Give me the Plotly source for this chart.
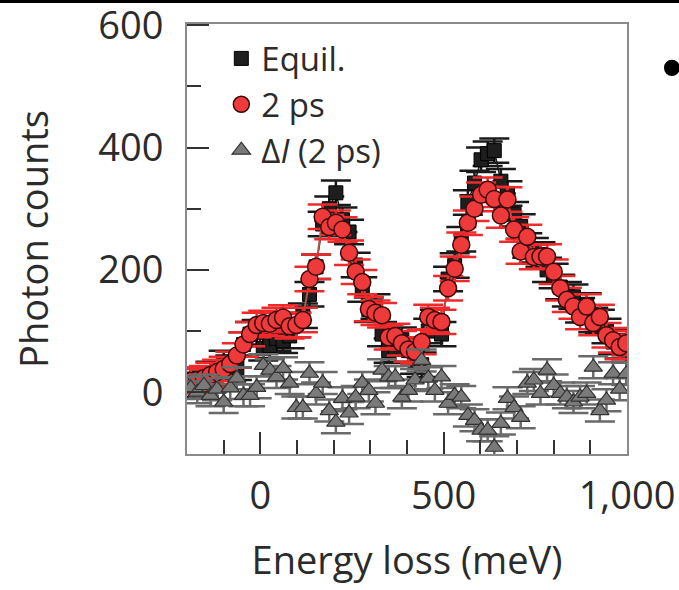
import plotly.graph_objects as go

energy = [-190, -172, -154, -136, -118, -100, -82, -64, -46, -28,
          -10, 8, 26, 44, 62, 80, 98, 116, 134, 152,
          170, 188, 206, 224, 242, 260, 278, 296, 314, 332,
          350, 368, 386, 404, 422, 440, 458, 476, 494, 512,
          530, 548, 566, 584, 602, 620, 638, 656, 674, 692,
          710, 728, 746, 764, 782, 800, 818, 836, 854, 872,
          890, 908, 926, 944, 962, 980, 998]

equil = [12, 20, 14, 30, 28, 48, 40, 40, 78, 95,
         98, 72, 76, 88, 84, 92, 110, 125, 160, 205,
         275, 300, 326, 282, 262, 208, 168, 135, 140, 95,
         68, 70, 86, 68, 50, 45, 100, 115, 95, 185,
         207, 250, 310, 342, 380, 390, 395, 345, 325, 291,
         271, 240, 232, 225, 200, 190, 172, 160, 156, 134,
         142, 118, 115, 100, 82, 75, 70]

two_ps = [18, 20, 23, 28, 33, 38, 46, 60, 78, 95,
          110, 113, 112, 118, 122, 108, 110, 118, 185, 205,
          287, 270, 277, 266, 228, 197, 180, 136, 130, 126,
          90, 92, 80, 70, 66, 82, 123, 118, 115, 170,
          202, 241, 277, 300, 323, 331, 316, 289, 315, 266,
          230, 254, 221, 222, 222, 197, 170, 151, 140, 123,
          140, 113, 123, 93, 85, 74, 80]

delta = [7, 0, 11, -5, 5, -16, 7, 23, -5, -5,
         8, 44, 36, 25, 39, 15, -25, -25, 31, -2,
         15, -30, -49, -10, -34, -8, 15, 3, -18, 36,
         25, 25, -8, 3, 20, 52, 23, 3, 25, -18,
         -5, -8, -38, -46, -62, -62, -90, -51, -10, -25,
         -41, 15, 20, -2, 36, 11, -2, -8, -16, -8,
         -2, 41, -30, -13, 31, 5, 30]

err_equil = 20
err_two_ps = 20
err_delta = 18

FONT = "Open Sans"
TXT = "#2b2b2b"

fig = go.Figure()

fig.add_trace(go.Scatter(x=energy, y=equil, mode="lines",
                         line=dict(color="#1a1a1a", width=1.5),
                         showlegend=False, hoverinfo="skip"))
fig.add_trace(go.Scatter(
    x=energy, y=equil, mode="markers", name="Equil.",
    marker=dict(symbol="square", size=14, color="#1e1e1e",
                line=dict(color="#000000", width=1)),
    error_y=dict(type="constant", value=err_equil, color="#1a1a1a",
                 thickness=2.5, width=15)))

fig.add_trace(go.Scatter(x=energy, y=two_ps, mode="lines",
                         line=dict(color="#a65a50", width=2),
                         showlegend=False, hoverinfo="skip"))
fig.add_trace(go.Scatter(
    x=energy, y=two_ps, mode="markers", name="2 ps",
    marker=dict(symbol="circle", size=17, color="#ee3a3a",
                line=dict(color="#3a0a0a", width=1.5)),
    error_y=dict(type="constant", value=err_two_ps, color="#f02a2a",
                 thickness=2.5, width=15)))

fig.add_trace(go.Scatter(
    x=energy, y=delta, mode="markers", name="Δ<i>I</i> (2 ps)",
    marker=dict(symbol="triangle-up", size=16, color="#7a7a7a",
                line=dict(color="#333333", width=1.2)),
    error_y=dict(type="constant", value=err_delta, color="#6a6a6a",
                 thickness=2.5, width=15)))

axis_common = dict(
    showline=True, linecolor="#8a8a8a", linewidth=2, mirror=True,
    ticks="inside", ticklen=22, tickwidth=1.5, tickcolor="#333333",
    showgrid=False, zeroline=False, ticklabeloverflow="allow",
    automargin=False,
    tickfont=dict(family=FONT, size=38, color=TXT),
)

fig.update_xaxes(
    range=[-200, 1000], tickmode="array", tickvals=[0, 500, 1000],
    ticktext=["0", "500", "1,000"],
    minor=dict(dtick=100, ticks="inside", ticklen=14, tickwidth=1.5,
               tickcolor="#333333", showgrid=False),
    ticklabelstandoff=7,
    title=dict(text="Energy loss (meV)", font=dict(family=FONT, size=38, color=TXT),
               standoff=29),
    **axis_common)
fig.update_yaxes(
    range=[-101, 602], tickmode="array", tickvals=[0, 200, 400, 600],
    minor=dict(dtick=100, ticks="inside", ticklen=14, tickwidth=1.5,
               tickcolor="#333333", showgrid=False),
    ticklabelstandoff=14,
    title=dict(text="Photon counts", font=dict(family=FONT, size=38, color=TXT),
               standoff=38),
    **axis_common)

fig.update_layout(
    width=679, height=590,
    margin=dict(l=187, r=52, t=24, b=136),
    paper_bgcolor="white", plot_bgcolor="white",
    showlegend=True,
    legend=dict(x=0.078, y=0.985, xanchor="left", yanchor="top",
                bgcolor="rgba(0,0,0,0)", borderwidth=0,
                font=dict(family=FONT, size=33, color=TXT),
                itemwidth=30, tracegroupgap=0),
    shapes=[
        dict(type="rect", xref="paper", yref="paper",
             x0=-0.5, x1=1.2, y0=1.049, y1=1.07,
             fillcolor="#000000", line=dict(width=0)),
        dict(type="circle", xref="paper", yref="paper",
             x0=1.084, x1=1.12, y0=0.879, y1=0.917,
             fillcolor="#000000", line=dict(width=0)),
    ],
)

fig.write_html("out.html")
